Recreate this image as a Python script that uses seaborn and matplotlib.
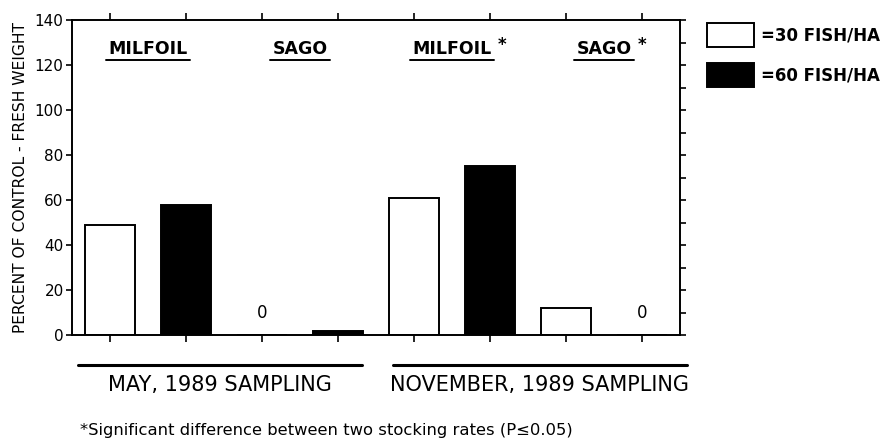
import pandas as pd
import seaborn as sns
import matplotlib.pyplot as plt
from matplotlib.ticker import MultipleLocator


SAMPLINGS = ["MAY, 1989 SAMPLING", "NOVEMBER, 1989 SAMPLING"]
SPECIES = ["MILFOIL", "SAGO"]
RATES = ["=30 FISH/HA", "=60 FISH/HA"]
MAY_VALUES = [49, 58, 0, 2]      # milfoil 30, milfoil 60, sago 30, sago 60
NOV_VALUES = [61, 75, 12, 0]
SIGNIFICANT = [False, False, True, True]   # per sampling/species group
Y_TICKS = [0, 20, 40, 60, 80, 100, 120, 140]
Y_LABEL = "PERCENT OF CONTROL - FRESH WEIGHT"
FOOTNOTE = "*Significant difference between two stocking rates (P\u22640.05)"


def build_frame():
    rows = []
    for sampling, values in zip(SAMPLINGS, [MAY_VALUES, NOV_VALUES]):
        k = 0
        for species in SPECIES:
            for rate in RATES:
                rows.append({"slot": f"{sampling}|{species}|{rate}",
                             "sampling": sampling, "species": species,
                             "rate": rate, "value": values[k]})
                k += 1
    return pd.DataFrame(rows)


def make_chart(df):
    sns.set_style("ticks")
    plt.rcParams["font.family"] = ["DejaVu Sans"]
    for key in ["text.color", "axes.labelcolor", "xtick.color",
                "ytick.color", "axes.edgecolor"]:
        plt.rcParams[key] = "black"

    fig = plt.figure(figsize=(8.91, 4.46), dpi=100)
    ax = fig.add_axes([72 / 891, 1 - 335 / 446, 608 / 891, 315 / 446])

    slots = list(df["slot"])
    sns.barplot(data=df, x="slot", y="value", hue="rate", order=slots,
                hue_order=RATES, palette={RATES[0]: "white", RATES[1]: "black"},
                dodge=False, width=0.65, edgecolor="black", linewidth=1.4,
                ax=ax)

    ax.set_xlim(-0.5, len(slots) - 0.5)
    ax.set_ylim(0, 140)
    ax.set_yticks(Y_TICKS)
    ax.set_xticks(range(len(slots)))
    ax.set_xticklabels([])
    ax.set_xlabel("")
    ax.set_ylabel(Y_LABEL, fontsize=11.2, labelpad=5)
    ax.tick_params(axis="y", labelsize=11, length=4, width=1.2, pad=2)
    ax.tick_params(axis="x", top=True, bottom=True, length=5, width=1.2)
    for sp in ax.spines.values():
        sp.set_visible(True)
        sp.set_linewidth(1.4)

    # right side ticks every 10
    ax2 = ax.twinx()
    ax2.set_ylim(0, 140)
    ax2.yaxis.set_major_locator(MultipleLocator(10))
    ax2.set_yticklabels([])
    ax2.tick_params(axis="y", length=4, width=1.2)
    for sp in ax2.spines.values():
        sp.set_visible(False)

    # "0" labels over empty bars
    for i, v in enumerate(df["value"]):
        if v == 0:
            ax.text(i, 10, "0", ha="center", va="center", fontsize=12)

    # group labels, underlined
    fig.canvas.draw()
    renderer = fig.canvas.get_renderer()
    inv = ax.transData.inverted()
    for g in range(len(SAMPLINGS) * len(SPECIES)):
        species = SPECIES[g % len(SPECIES)]
        xc = 2 * g + 0.5
        t = ax.text(xc, 127, species, ha="center", va="center",
                    fontsize=12.5, fontweight="bold")
        bb = t.get_window_extent(renderer)
        (x0, y0), (x1, _) = inv.transform([(bb.x0, bb.y0), (bb.x1, bb.y1)])
        ax.plot([x0 - 0.03, x1 + 0.03], [y0 - 0.8, y0 - 0.8],
                color="black", lw=1.4, clip_on=False)
        if SIGNIFICANT[g]:
            ax.text(x1 + 0.08, y0 + 6, "*", ha="left", va="center",
                    fontsize=12, fontweight="bold")

    # sampling labels below axis
    for s, sampling in enumerate(SAMPLINGS):
        if s == 0:
            xa, xb = 0.01, 0.477
        else:
            xa, xb = 0.528, 1.011
        ax.plot([xa, xb], [-0.095, -0.095], transform=ax.transAxes,
                color="black", lw=2.2, clip_on=False)
        ax.text((xa + xb) / 2, -0.16, sampling, transform=ax.transAxes,
                ha="center", va="center", fontsize=15)

    fig.text(80 / 891, 1 - 430 / 446, FOOTNOTE, ha="left", va="center",
             fontsize=11.8)

    handles, labels = ax.get_legend_handles_labels()
    ax.legend(handles, labels, loc="upper left",
              bbox_to_anchor=(707 / 891, 1 - 23 / 446),
              bbox_transform=fig.transFigure, frameon=False, borderpad=0,
              borderaxespad=0, handlelength=2.8, handleheight=1.8,
              handletextpad=0.45, labelspacing=1.0,
              prop={"weight": "bold", "size": 12})

    plt.savefig("out.png", dpi=100)


if __name__ == "__main__":
    df = build_frame()
    make_chart(df)
